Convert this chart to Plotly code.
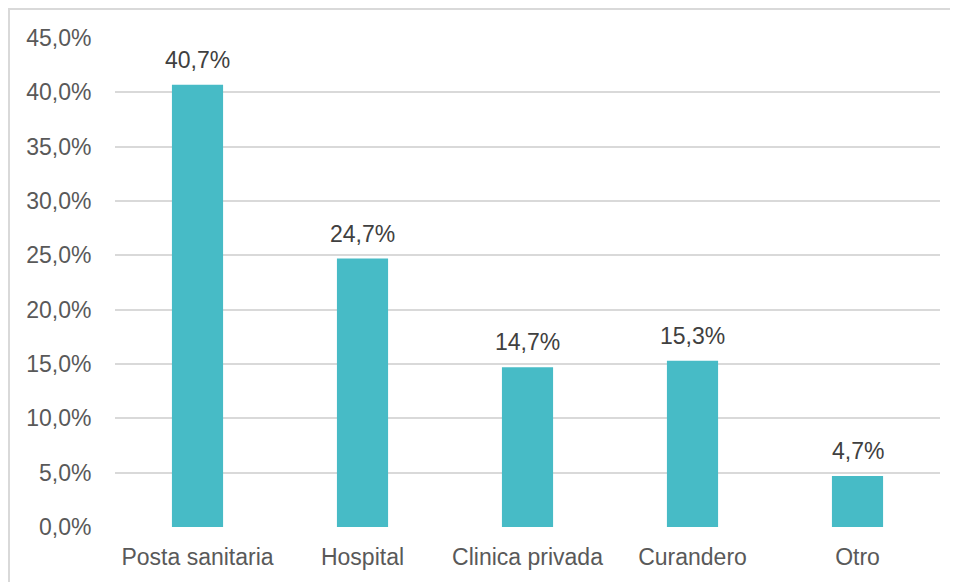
import plotly.graph_objects as go

categories = ["Posta sanitaria", "Hospital", "Clinica privada", "Curandero", "Otro"]
values = [40.7, 24.7, 14.7, 15.3, 4.7]
y_ticks = [0, 5, 10, 15, 20, 25, 30, 35, 40, 45]
y_tick_labels = [f"{t:.1f}%".replace(".", ",") for t in y_ticks]

BAR = "#47BBC6"
TXT = "#595959"
LBL = "#404040"
GRID = "#D9D9D9"
FONT = "Liberation Sans, Arial, sans-serif"
FS = 23

fig = go.Figure(go.Bar(x=categories, y=values, marker_color=BAR, width=0.31,
                       marker_line_width=0, hoverinfo="skip"))

for c, v in zip(categories, values):
    fig.add_annotation(x=c, y=v, text=f"{v:.1f}%".replace(".", ","), showarrow=False,
                       yanchor="bottom", yshift=10, font=dict(size=FS, color=LBL, family=FONT))

fig.add_shape(type="rect", xref="paper", yref="paper", x0=-0.1285, x1=1.1, y0=-0.2, y1=1.0593,
              line=dict(color=GRID, width=2), fillcolor="rgba(0,0,0,0)", layer="below")

fig.update_layout(
    width=950, height=574,
    margin=dict(l=107, r=18, t=30, b=55),
    paper_bgcolor="white", plot_bgcolor="white",
    showlegend=False,
    font=dict(family=FONT, size=FS, color=TXT),
)
fig.update_xaxes(showgrid=False, showline=False, zeroline=False,
                 ticks="outside", ticklen=9, tickcolor="rgba(0,0,0,0)",
                 tickfont=dict(size=FS, color=TXT, family=FONT))
fig.update_yaxes(range=[0, 45], tickvals=y_ticks, ticktext=y_tick_labels,
                 showgrid=True, gridcolor=GRID, gridwidth=2, zeroline=False, showline=False,
                 ticks="outside", ticklen=18, tickcolor="rgba(0,0,0,0)",
                 tickfont=dict(size=FS, color=TXT, family=FONT))

fig.write_html("out.html")
